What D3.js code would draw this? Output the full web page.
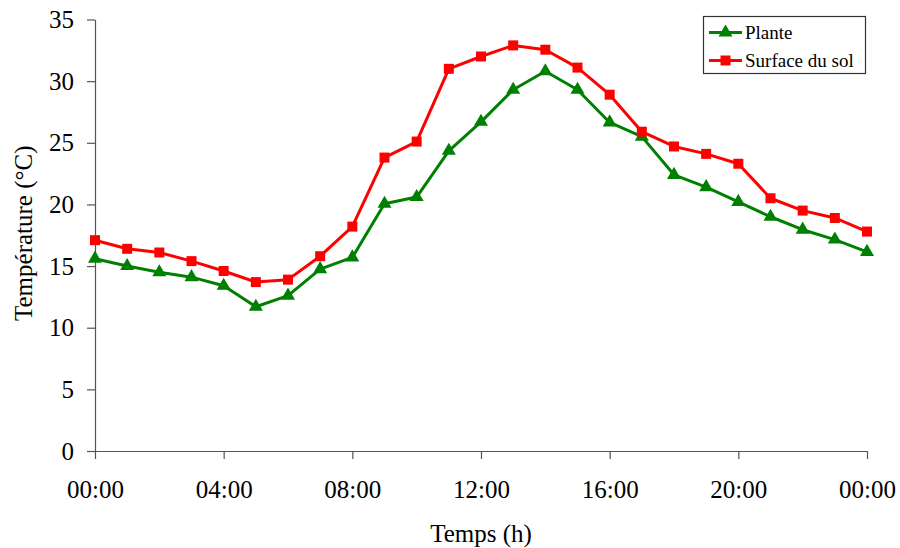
<!DOCTYPE html>
<html>
<head>
<meta charset="utf-8">
<script src="https://cdn.jsdelivr.net/npm/d3@7"></script>
<style>
  html, body { margin: 0; padding: 0; background: #fff; }
  svg { display: block; font-family: "Liberation Serif", "Times New Roman", serif; }
</style>
</head>
<body>
<svg id="chart" width="900" height="548"></svg>
<script>
const hours = [0,1,2,3,4,5,6,7,8,9,10,11,12,13,14,15,16,17,18,19,20,21,22,23,24];
const plante = [15.6,15.0,14.5,14.1,13.4,11.7,12.6,14.75,15.7,20.05,20.6,24.35,26.7,29.3,30.8,29.3,26.65,25.5,22.4,21.4,20.2,19.0,17.95,17.15,16.15];
const surfaceSol = [17.1,16.4,16.1,15.4,14.6,13.7,13.9,15.8,18.2,23.8,25.1,31.0,32.0,32.9,32.55,31.1,28.9,25.9,24.7,24.1,23.3,20.5,19.5,18.9,17.8];
const xTicks = [0,4,8,12,16,20,24];
const xTickLabels = ["00:00","04:00","08:00","12:00","16:00","20:00","00:00"];
const yTicks = [0,5,10,15,20,25,30,35];
const seriesNames = ["Plante","Surface du sol"];
const seriesColors = ["#008000","#ff0000"];

const svg = d3.select("#chart");
const mLeft = 95, mRight = 867, mTop = 19.5, mBottom = 451;
const serif = "'Liberation Serif', 'Times New Roman', serif";

const x = d3.scaleLinear().domain([0,24]).range([mLeft,mRight]);
const y = d3.scaleLinear().domain([0,35]).range([mBottom,mTop]);

const axisColor = "#555";

// Y axis
const gy = svg.append("g").attr("transform", `translate(${mLeft},0)`)
  .call(d3.axisLeft(y).tickValues(yTicks).tickSize(8).tickSizeOuter(0).tickPadding(13).tickFormat(d3.format("d")));
gy.attr("font-family", serif).attr("font-size", 25);
gy.select(".domain").attr("stroke", axisColor).attr("stroke-width", 1.2);
gy.selectAll(".tick line").attr("stroke", axisColor).attr("stroke-width", 1.2);
gy.selectAll(".tick text").attr("fill", "#000");

// X axis
const gx = svg.append("g").attr("transform", `translate(0,${mBottom})`)
  .call(d3.axisBottom(x).tickValues(xTicks).tickSize(8).tickSizeOuter(0).tickPadding(21)
    .tickFormat((d,i) => xTickLabels[i]));
gx.attr("font-family", serif).attr("font-size", 25);
gx.select(".domain").attr("stroke", axisColor).attr("stroke-width", 1.2);
gx.selectAll(".tick line").attr("stroke", axisColor).attr("stroke-width", 1.2);
gx.selectAll(".tick text").attr("fill", "#000");

// Axis titles
svg.append("text").attr("x", (mLeft+mRight)/2).attr("y", 542)
  .attr("text-anchor", "middle").style("font-size", "25px").text("Temps (h)");
svg.append("text").attr("transform", `translate(32,${(mTop+mBottom)/2 - 2}) rotate(-90)`)
  .attr("text-anchor", "middle").style("font-size", "25px").text("Température (°C)");

const line = d3.line().x((d,i) => x(hours[i])).y(d => y(d));

const symTri = d3.symbol().type(d3.symbolTriangle).size(85);
const symSq = d3.symbol().type(d3.symbolSquare).size(100);
const symbols = [symTri, symSq];
const dataSets = [plante, surfaceSol];

dataSets.forEach((vals, k) => {
  svg.append("path").datum(vals).attr("d", line)
    .attr("fill", "none").attr("stroke", seriesColors[k]).attr("stroke-width", 3)
    .attr("stroke-linejoin", "round");
  svg.append("g").selectAll("path").data(vals).join("path")
    .attr("d", symbols[k])
    .attr("transform", (d,i) => `translate(${x(hours[i])},${y(d)})`)
    .attr("fill", seriesColors[k]);
});

// Legend
const lg = svg.append("g");
lg.append("rect").attr("x", 703.5).attr("y", 16.5).attr("width", 162).attr("height", 57)
  .attr("fill", "#fff").attr("stroke", "#333").attr("stroke-width", 1.2);
const rowsY = [32.5, 60.5];
seriesNames.forEach((name, k) => {
  lg.append("line").attr("x1", 709).attr("x2", 742).attr("y1", rowsY[k]).attr("y2", rowsY[k])
    .attr("stroke", seriesColors[k]).attr("stroke-width", 3);
  lg.append("path").attr("d", symbols[k]).attr("transform", `translate(725.5,${rowsY[k]})`)
    .attr("fill", seriesColors[k]);
  lg.append("text").attr("x", 745).attr("y", rowsY[k]).attr("dy", "0.33em")
    .style("font-size", "19px").text(name);
});
</script>
</body>
</html>
